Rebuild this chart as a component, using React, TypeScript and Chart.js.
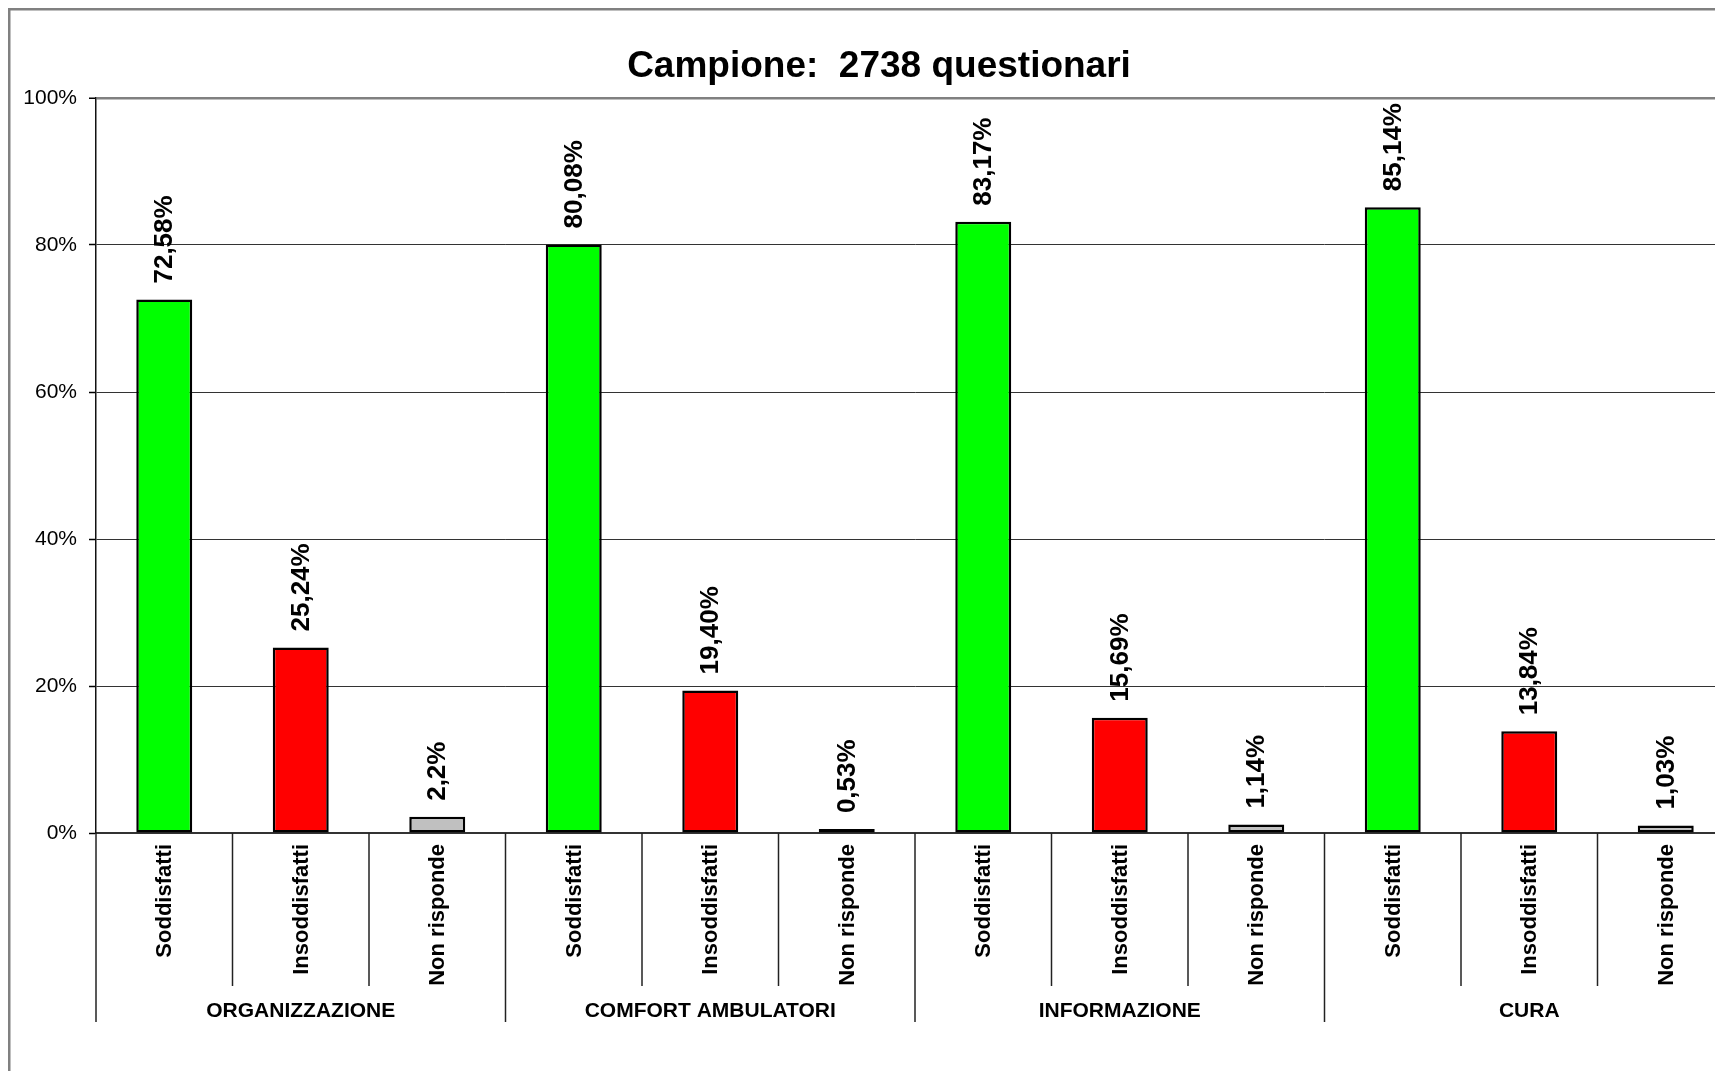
import React, { useEffect, useRef } from "react";
import { Chart, registerables } from "chart.js";

Chart.register(...registerables);

const chartTitle = "Campione:  2738 questionari";
const groups = ["ORGANIZZAZIONE", "COMFORT AMBULATORI", "INFORMAZIONE", "CURA"];
const answers = ["Soddisfatti", "Insoddisfatti", "Non risponde"];
const values = [72.58, 25.24, 2.2, 80.08, 19.4, 0.53, 83.17, 15.69, 1.14, 85.14, 13.84, 1.03];
const valueLabels = [
  "72,58%", "25,24%", "2,2%",
  "80,08%", "19,40%", "0,53%",
  "83,17%", "15,69%", "1,14%",
  "85,14%", "13,84%", "1,03%",
];
const answerColors = ["#00FF00", "#FF0000", "#C0C0C0"];
const yMin = 0;
const yMax = 100;
const yStep = 20;

const categories: string[] = [];
groups.forEach((g) => answers.forEach((a) => categories.push(a)));

const FONT = "'Liberation Sans', Arial, Helvetica, sans-serif";

const overlayPlugin = {
  id: "overlay",
  afterDraw(chart: any) {
    const { ctx, chartArea: a } = chart;
    const xs = chart.scales.x;
    ctx.save();

    // outer frame
    ctx.strokeStyle = "#808080";
    ctx.lineWidth = 2.5;
    ctx.strokeRect(1.25, 1.25, chart.width + 40, chart.height + 40);

    // title
    ctx.fillStyle = "#000";
    ctx.font = `bold 37px ${FONT}`;
    ctx.textAlign = "center";
    ctx.textBaseline = "alphabetic";
    ctx.fillText(chartTitle, 871, 69);

    // category separators below axis
    const n = categories.length;
    const w = xs.getPixelForValue(1) - xs.getPixelForValue(0);
    ctx.strokeStyle = "#222";
    ctx.lineWidth = 1.5;
    for (let i = 0; i <= n; i++) {
      const px = xs.getPixelForValue(i) - w / 2;
      const isGroup = i % answers.length === 0;
      ctx.beginPath();
      ctx.moveTo(px, a.bottom);
      ctx.lineTo(px, a.bottom + (isGroup ? 189 : 153));
      ctx.stroke();
    }

    // category labels (rotated)
    ctx.fillStyle = "#000";
    ctx.font = `bold 22px ${FONT}`;
    ctx.textAlign = "right";
    ctx.textBaseline = "middle";
    for (let i = 0; i < n; i++) {
      const px = xs.getPixelForValue(i);
      ctx.save();
      ctx.translate(px + 1, a.bottom + 11);
      ctx.rotate(-Math.PI / 2);
      ctx.fillText(categories[i], 0, 0);
      ctx.restore();
    }

    // group labels
    ctx.font = `bold 21px ${FONT}`;
    ctx.textAlign = "center";
    ctx.textBaseline = "middle";
    groups.forEach((g, gi) => {
      const first = xs.getPixelForValue(gi * answers.length);
      const last = xs.getPixelForValue(gi * answers.length + answers.length - 1);
      ctx.fillText(g, (first + last) / 2, a.bottom + 178);
    });

    // value labels (rotated)
    const meta = chart.getDatasetMeta(0);
    ctx.font = `bold 26px ${FONT}`;
    ctx.textAlign = "left";
    ctx.textBaseline = "middle";
    meta.data.forEach((bar: any, i: number) => {
      ctx.save();
      ctx.translate(bar.x + 1, bar.y - 16);
      ctx.rotate(-Math.PI / 2);
      ctx.fillText(valueLabels[i], 0, 0);
      ctx.restore();
    });

    ctx.restore();
  },
};

export default function App() {
  const ref = useRef<HTMLCanvasElement | null>(null);

  useEffect(() => {
    document.body.style.overflow = "hidden";
    document.body.style.background = "#fff";
    const canvas = ref.current!;
    const chart = new Chart(canvas, {
      type: "bar",
      data: {
        labels: categories,
        datasets: [
          {
            data: values,
            backgroundColor: values.map((_, i) => answerColors[i % answerColors.length]),
            borderColor: "#000",
            borderWidth: 2.5,
            borderSkipped: false,
            barPercentage: 0.41,
            categoryPercentage: 1,
          },
        ],
      },
      options: {
        animation: false,
        responsive: false,
        devicePixelRatio: 1,
        layout: { padding: { top: 90, right: 34, left: 0, bottom: 0 } },
        plugins: {
          legend: { display: false },
          title: { display: false },
          tooltip: { enabled: false },
        },
        scales: {
          x: {
            display: true,
            grid: { display: false },
            ticks: { display: false },
            border: { display: true, color: "#333", width: 2 },
            afterFit: (s: any) => {
              s.height = 238;
            },
          },
          y: {
            min: yMin,
            max: yMax,
            ticks: {
              stepSize: yStep,
              color: "#000",
              padding: 12,
              font: { family: FONT, size: 21 },
              callback: (v: any) => `${v}%`,
            },
            grid: {
              color: (c: any) =>
                c.tick && c.tick.value === yMax ? "#808080" : c.tick && c.tick.value === yMin ? "rgba(0,0,0,0)" : "#333",
              lineWidth: (c: any) => (c.tick && c.tick.value === yMax ? 2.5 : 1),
              tickColor: "#000",
              tickLength: 7,
              tickWidth: 1.5,
            },
            border: { display: true, color: "#111", width: 1.5 },
            afterFit: (s: any) => {
              s.width = 88;
            },
          },
        },
      },
      plugins: [overlayPlugin],
    });
    return () => chart.destroy();
  }, []);

  return <canvas ref={ref} width={1760} height={1063} style={{ display: "block" }} />;
}
